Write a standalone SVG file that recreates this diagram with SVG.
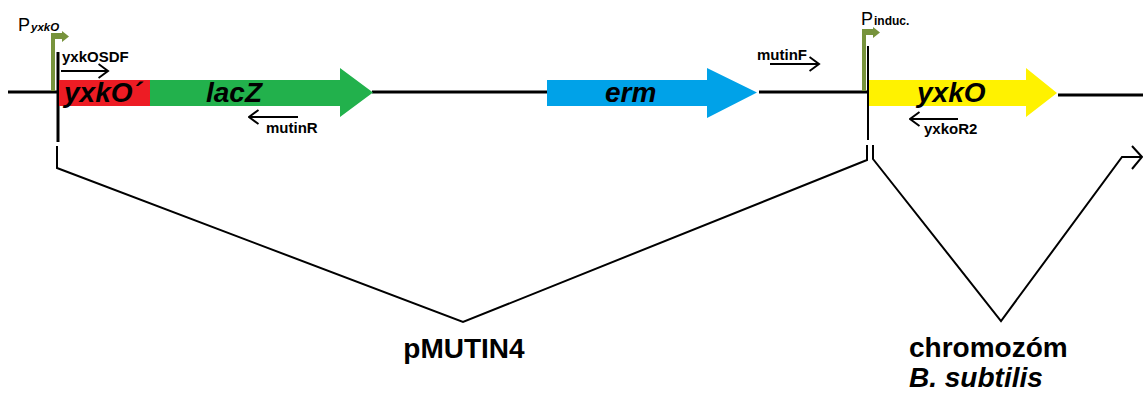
<svg xmlns="http://www.w3.org/2000/svg" width="1143" height="394" viewBox="0 0 1143 394">
  <style>
    .dna { stroke: #000; stroke-width: 3; fill: none; }
    .thin { stroke: #000; stroke-width: 2; fill: none; }
    .primer { stroke: #000; stroke-width: 2; fill: none; }
    .prom { fill: #77933C; }
    .gene { font-family: "Liberation Sans", Arial, sans-serif; font-weight: bold; font-style: italic; font-size: 28px; fill: #000; }
    .plab { font-family: "Liberation Sans", Arial, sans-serif; font-weight: bold; font-size: 15px; fill: #000; }
    .big { font-family: "Liberation Sans", Arial, sans-serif; font-weight: bold; font-size: 28px; fill: #000; }
    .pname { font-family: "Liberation Sans", Arial, sans-serif; font-size: 18px; fill: #000; }
  </style>
  <defs>
    <marker id="head" viewBox="0 0 12 16" refX="10.5" refY="8" markerWidth="12" markerHeight="16" markerUnits="userSpaceOnUse" orient="auto">
      <path d="M1,1 L10.5,8 L1,15" fill="none" stroke="#000" stroke-width="2"/>
    </marker>
  </defs>

  <!-- backbone and joining lines -->
  <g id="connectors">
    <line class="dna" x1="8" y1="92" x2="58" y2="92"/>
    <line class="dna" x1="372" y1="92" x2="548" y2="92"/>
    <line class="dna" x1="759" y1="92" x2="868" y2="92"/>
    <line class="dna" x1="1058" y1="95" x2="1143" y2="95"/>
    <!-- insertion boundaries -->
    <line class="dna" x1="58" y1="52" x2="58" y2="142"/>
    <line class="thin" x1="868" y1="46" x2="868" y2="140"/>
    <!-- plasmid V -->
    <polyline class="thin" points="57,146 57,168 463,322 867,160 867,145"/>
    <!-- chromosome V -->
    <polyline class="thin" points="873,145 873,159 1001,321 1122,157 1141,157"/>
    <polyline class="thin" points="1132,146 1142,157 1132,169"/>
  </g>

  <!-- promoter P yxkO -->
  <g id="promoter-yxkO">
    <polygon class="prom" points="51,91 51,33 62,33 62,31 69,36.5 62,42 62,39 55,39 55,91"/>
    <text x="18" y="31" class="pname">P<tspan font-size="11.5" font-weight="bold" font-style="italic" dx="1">yxkO</tspan></text>
  </g>

  <!-- inducible promoter -->
  <g id="promoter-induc">
    <polygon class="prom" points="862,91 862,29 873,29 873,27 880,32.5 873,38 873,35 866,35 866,91"/>
    <text x="861" y="25" class="pname">P<tspan font-size="12" font-weight="bold" dx="1">induc.</tspan></text>
  </g>

  <!-- yxkO' fragment and lacZ -->
  <g id="gene-yxkO-frag">
    <rect x="59" y="80" width="92" height="26" fill="#ED1C24"/>
    <text x="64" y="102" class="gene">yxkO´</text>
  </g>
  <g id="gene-lacZ">
    <polygon points="150,80 340,80 340,68 373,92.5 340,117 340,106 150,106" fill="#22B14C"/>
    <text x="206" y="102" class="gene">lacZ</text>
  </g>

  <!-- erm -->
  <g id="gene-erm">
    <polygon points="547,80 707,80 707,68 757,92.5 707,118 707,106 547,106" fill="#00A2E8"/>
    <text x="605" y="102" class="gene">erm</text>
  </g>

  <!-- yxkO -->
  <g id="gene-yxkO">
    <polygon points="869,80 1026,80 1026,68 1057,93 1026,117 1026,106 869,106" fill="#FFF200"/>
    <text x="917" y="102" class="gene">yxkO</text>
  </g>

  <!-- primers -->
  <g id="primer-yxkOSDF">
    <line class="primer" x1="61" y1="71" x2="108" y2="71" marker-end="url(#head)"/>
    <text x="62" y="62" class="plab">yxkOSDF</text>
  </g>
  <g id="primer-mutinR">
    <line class="primer" x1="298" y1="117" x2="249" y2="117" marker-end="url(#head)"/>
    <text x="266" y="133" class="plab">mutinR</text>
  </g>
  <g id="primer-mutinF">
    <line class="primer" x1="770" y1="64" x2="819" y2="64" marker-end="url(#head)"/>
    <text x="757" y="60" class="plab" font-size="14">mutinF</text>
  </g>
  <g id="primer-yxkoR2">
    <line class="primer" x1="958" y1="119" x2="910" y2="119" marker-end="url(#head)"/>
    <text x="924" y="134" class="plab">yxkoR2</text>
  </g>

  <!-- labels -->
  <g id="label-pMUTIN4">
    <text x="464" y="358" class="big" text-anchor="middle">pMUTIN4</text>
  </g>
  <g id="label-chromosome">
    <text x="909" y="357" class="big">chromozóm</text>
    <text x="909" y="387" class="big" font-style="italic">B. subtilis</text>
  </g>
</svg>
